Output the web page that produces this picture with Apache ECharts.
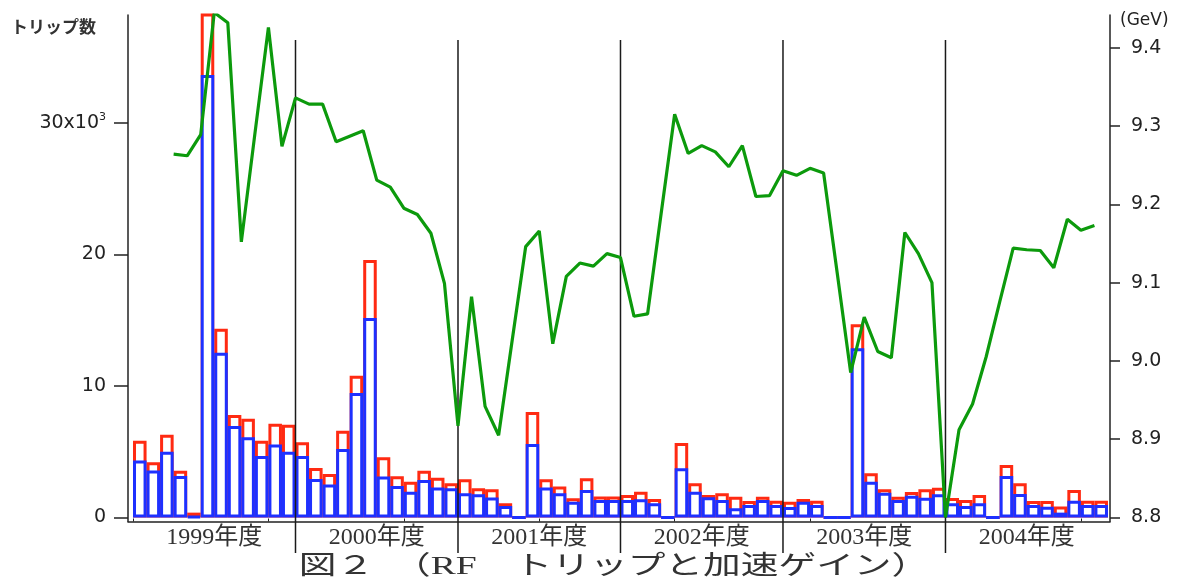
<!DOCTYPE html>
<html>
<head>
<meta charset="utf-8">
<title>RF トリップと加速ゲイン</title>
<script src="https://cdn.jsdelivr.net/npm/echarts@6.0.0/dist/echarts.min.js"></script>
<style>
  html, body { margin: 0; padding: 0; background: #fff; }
  #chart { width: 1178px; height: 579px; }
</style>
</head>
<body>
<div id="chart"></div>
<script>
  // 月別データ 1999年4月〜2005年3月 (72ヶ月)、トリップ数は千回単位
  const yearLabels = ['1999年度', '2000年度', '2001年度', '2002年度', '2003年度', '2004年度'];

  const tripTotal = [
    5.84, 4.2, 6.3, 3.55, 0.37, 39.5, 14.35, 7.8, 7.5, 5.83, 7.13, 7.05,
    5.72, 3.76, 3.3, 6.6, 10.77, 19.58, 4.58, 3.13, 2.72, 3.56, 3.03, 2.6,
    2.9, 2.22, 2.15, 1.08, 0, 8.02, 2.9, 2.36, 1.46, 2.98, 1.6, 1.6,
    1.71, 1.96, 1.41, 0, 5.66, 2.6, 1.71, 1.84, 1.58, 1.25, 1.58, 1.28,
    1.2, 1.41, 1.28, 0, 0, 14.7, 3.36, 2.14, 1.58, 1.93, 2.14, 2.27,
    1.48, 1.33, 1.71, 0, 3.99, 2.6, 1.26, 1.26, 0.84, 2.1, 1.28, 1.28
  ];

  const tripPart = [
    4.33, 3.58, 5.0, 3.16, 0.08, 33.65, 12.53, 6.96, 6.1, 4.68, 5.55, 5.0,
    4.68, 2.92, 2.5, 5.2, 9.46, 15.17, 3.12, 2.4, 1.96, 2.85, 2.28, 2.22,
    1.84, 1.76, 1.52, 0.87, 0, 5.58, 2.29, 1.84, 1.2, 2.09, 1.33, 1.33,
    1.33, 1.38, 1.08, 0, 3.74, 1.96, 1.54, 1.33, 0.7, 0.95, 1.33, 0.95,
    0.8, 1.2, 0.95, 0, 0, 12.87, 2.72, 1.89, 1.33, 1.66, 1.51, 1.76,
    1.08, 0.87, 1.08, 0, 3.16, 1.79, 0.95, 0.82, 0.37, 1.28, 0.95, 0.95
  ];

  // 加速ゲイン (GeV)、null は データなし
  const gain = [
    null, null, null, 9.264, 9.262, 9.289, 9.445, 9.432, 9.152, 9.29, 9.426, 9.274,
    9.336, 9.328, 9.328, 9.28, 9.287, 9.294, 9.231, 9.222, 9.195, 9.187, 9.163, 9.099,
    8.917, 9.082, 8.942, 8.905, 9.026, 9.146, 9.166, 9.022, 9.108, 9.125, 9.121, 9.137,
    9.132, 9.057, 9.06, 9.188, 9.315, 9.265, 9.275, 9.267, 9.248, 9.275, 9.21, 9.211,
    9.243, 9.237, 9.246, 9.24, 9.113, 8.985, 9.056, 9.012, 9.004, 9.164, 9.137, 9.1,
    8.8, 8.912, 8.945, 9.005, 9.075, 9.144, 9.142, 9.141, 9.119, 9.181, 9.167, 9.173
  ];

  const leftTicks = [0, 10, 20, 30];
  const rightTicks = [8.8, 8.9, 9.0, 9.1, 9.2, 9.3, 9.4];
  const monthTicks = [0, 10, 20, 30, 40, 50, 60, 70];
  const yearBreaks = [12, 24, 36, 48, 60];
  const yearCenters = yearLabels.map((_, i) => i * 12 + 6);

  const sans = "'DejaVu Sans', sans-serif";
  const serif = "'Liberation Serif', 'Noto Sans CJK JP', serif";
  const ink = '#222';

  let chart = echarts.init(document.getElementById('chart'), null, {renderer: 'canvas'});
  chart.setOption({
    animation: false,
    backgroundColor: '#fff',
    title: [{
      text: 'トリップ数',
      left: 11,
      top: 18,
      padding: 0,
      textStyle: {fontFamily: "'Noto Sans CJK JP'", fontSize: 17, fontWeight: 'bold', color: '#333'}
    }, {
      text: '(GeV)',
      left: 1120,
      top: 12,
      padding: 0,
      textStyle: {fontFamily: sans, fontSize: 17, fontWeight: 'normal', color: ink}
    }],
    graphic: [{
      type: 'text',
      x: 614,
      y: 567,
      scaleX: 1.45,
      silent: true,
      style: {
        text: '図２　（RF　トリップと加速ゲイン）',
        fontSize: 26,
        fontFamily: serif,
        fill: '#333',
        align: 'center',
        verticalAlign: 'middle'
      }
    }],
    grid: {left: 128, right: 68, top: 15, bottom: 57.5, containLabel: false},
    xAxis: {
      type: 'value',
      min: -0.37,
      max: 72.15,
      axisLine: {onZero: false, lineStyle: {color: ink, width: 1.5}},
      axisTick: {show: true, inside: true, length: 3, customValues: monthTicks, lineStyle: {color: ink}},
      axisLabel: {
        customValues: yearCenters,
        formatter: v => yearLabels[Math.round((v - 6) / 12)],
        fontFamily: serif,
        fontSize: 24,
        color: '#333',
        margin: 4
      },
      splitLine: {show: false}
    },
    yAxis: [{
      type: 'value',
      position: 'left',
      min: -0.304,
      max: 38.21,
      axisLine: {show: true, onZero: false, lineStyle: {color: ink, width: 1.5}},
      axisTick: {show: true, length: 14, customValues: leftTicks, lineStyle: {color: ink, width: 1.5}},
      axisLabel: {
        customValues: leftTicks,
        margin: 22,
        fontFamily: sans,
        fontSize: 19,
        color: ink,
        formatter: v => v === 30 ? '{a|30x10}{s|3}' : String(v),
        rich: {
          a: {fontFamily: sans, fontSize: 19, color: ink, lineHeight: 22},
          s: {fontFamily: sans, fontSize: 11, color: ink, verticalAlign: 'top', lineHeight: 11}
        }
      },
      splitLine: {show: false}
    }, {
      type: 'value',
      position: 'right',
      min: 8.7949,
      max: 9.4418,
      axisLine: {show: true, onZero: false, lineStyle: {color: ink, width: 1.5}},
      axisTick: {show: true, length: 10, customValues: rightTicks, lineStyle: {color: ink, width: 1.5}},
      axisLabel: {
        customValues: rightTicks,
        margin: 21,
        fontFamily: sans,
        fontSize: 19,
        color: ink,
        formatter: v => v.toFixed(1)
      },
      splitLine: {show: false}
    }],
    series: [{
      name: 'トリップ総数',
      type: 'bar',
      yAxisIndex: 0,
      data: tripTotal.map((v, i) => [i + 0.5, v]),
      barGap: '-100%',
      barCategoryGap: '0%',
      itemStyle: {color: '#fff', borderColor: '#ff2a12', borderWidth: 3},
      silent: true
    }, {
      name: 'トリップ',
      type: 'bar',
      yAxisIndex: 0,
      data: tripPart.map((v, i) => [i + 0.5, v]),
      barGap: '-100%',
      barCategoryGap: '0%',
      itemStyle: {color: '#fff', borderColor: '#1e30ff', borderWidth: 3},
      silent: true
    }, {
      // 年度の区切り線
      type: 'custom',
      yAxisIndex: 0,
      clip: false,
      silent: true,
      z: 4,
      data: yearBreaks.map(m => [m, 0]),
      renderItem: (params, api) => {
        const x = api.coord([api.value(0), 0])[0];
        return {
          type: 'line',
          shape: {x1: x, y1: 40, x2: x, y2: 553},
          style: {stroke: '#1a1a1a', lineWidth: 1.5}
        };
      }
    }, {
      name: '加速ゲイン',
      type: 'line',
      yAxisIndex: 1,
      data: gain.map((v, i) => [i, v]),
      symbol: 'none',
      lineStyle: {color: '#0c9a0c', width: 3.2},
      z: 5,
      silent: true
    }]
  });
</script>
</body>
</html>
